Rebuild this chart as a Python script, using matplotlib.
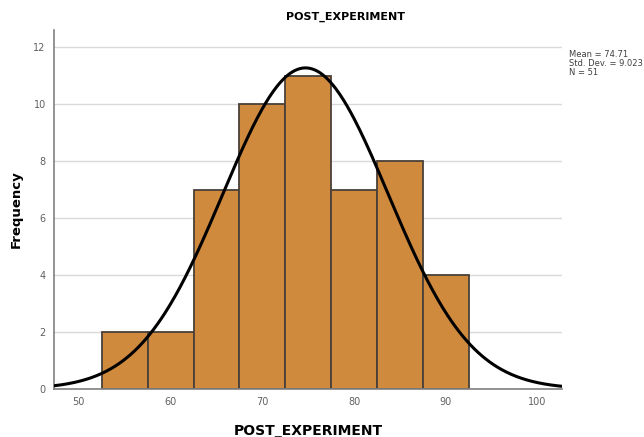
import numpy as np
import matplotlib
matplotlib.use("Agg")
import matplotlib.pyplot as plt

bin_edges = [52.5, 57.5, 62.5, 67.5, 72.5, 77.5, 82.5, 87.5, 92.5]
counts = [2, 2, 7, 10, 11, 7, 8, 4]
mean = 74.71
std = 9.023
n = 51
xticks = [50, 60, 70, 80, 90, 100]
yticks = [0, 2, 4, 6, 8, 10, 12]

fig = plt.figure(figsize=(6.44, 4.37), dpi=100)
ax = fig.add_axes([0.084, 0.110, 0.789, 0.821])

lefts = bin_edges[:-1]
widths = np.diff(bin_edges)
ax.bar(lefts, counts, width=widths, align='edge', color='#D08A3E',
       edgecolor='#4a4038', linewidth=1.3, zorder=2)

x = np.linspace(47.3, 102.7, 400)
bw = widths[0]
y = n * bw * np.exp(-0.5 * ((x - mean) / std) ** 2) / (std * np.sqrt(2 * np.pi))
ax.plot(x, y, color='black', linewidth=2.2, zorder=3)

ax.set_xlim(47.3, 102.7)
ax.set_ylim(0, 12.6)
ax.set_xticks(xticks)
ax.set_yticks(yticks)
ax.yaxis.grid(True, color='#d9d9d9', linewidth=1.0, zorder=0)
ax.set_axisbelow(True)
for s in ['top', 'right']:
    ax.spines[s].set_visible(False)
for s in ['left', 'bottom']:
    ax.spines[s].set_color('#808080')
    ax.spines[s].set_linewidth(1.2)
ax.tick_params(axis='both', length=0, labelsize=7, labelcolor='#606060', pad=6)

ax.set_xlabel('POST_EXPERIMENT', fontsize=10, fontweight='bold', labelpad=12)
ax.set_ylabel('Frequency', fontsize=9.5, fontweight='bold', labelpad=8)
fig.text(0.536, 0.961, 'POST_EXPERIMENT', ha='center', va='center',
         fontsize=8, fontweight='bold')
fig.text(0.883, 0.885, f'Mean = {mean}\nStd. Dev. = {std}\nN = {n}',
         ha='left', va='top', fontsize=6, color='#404040', linespacing=0.95)

fig.savefig('out.png', dpi=100)
